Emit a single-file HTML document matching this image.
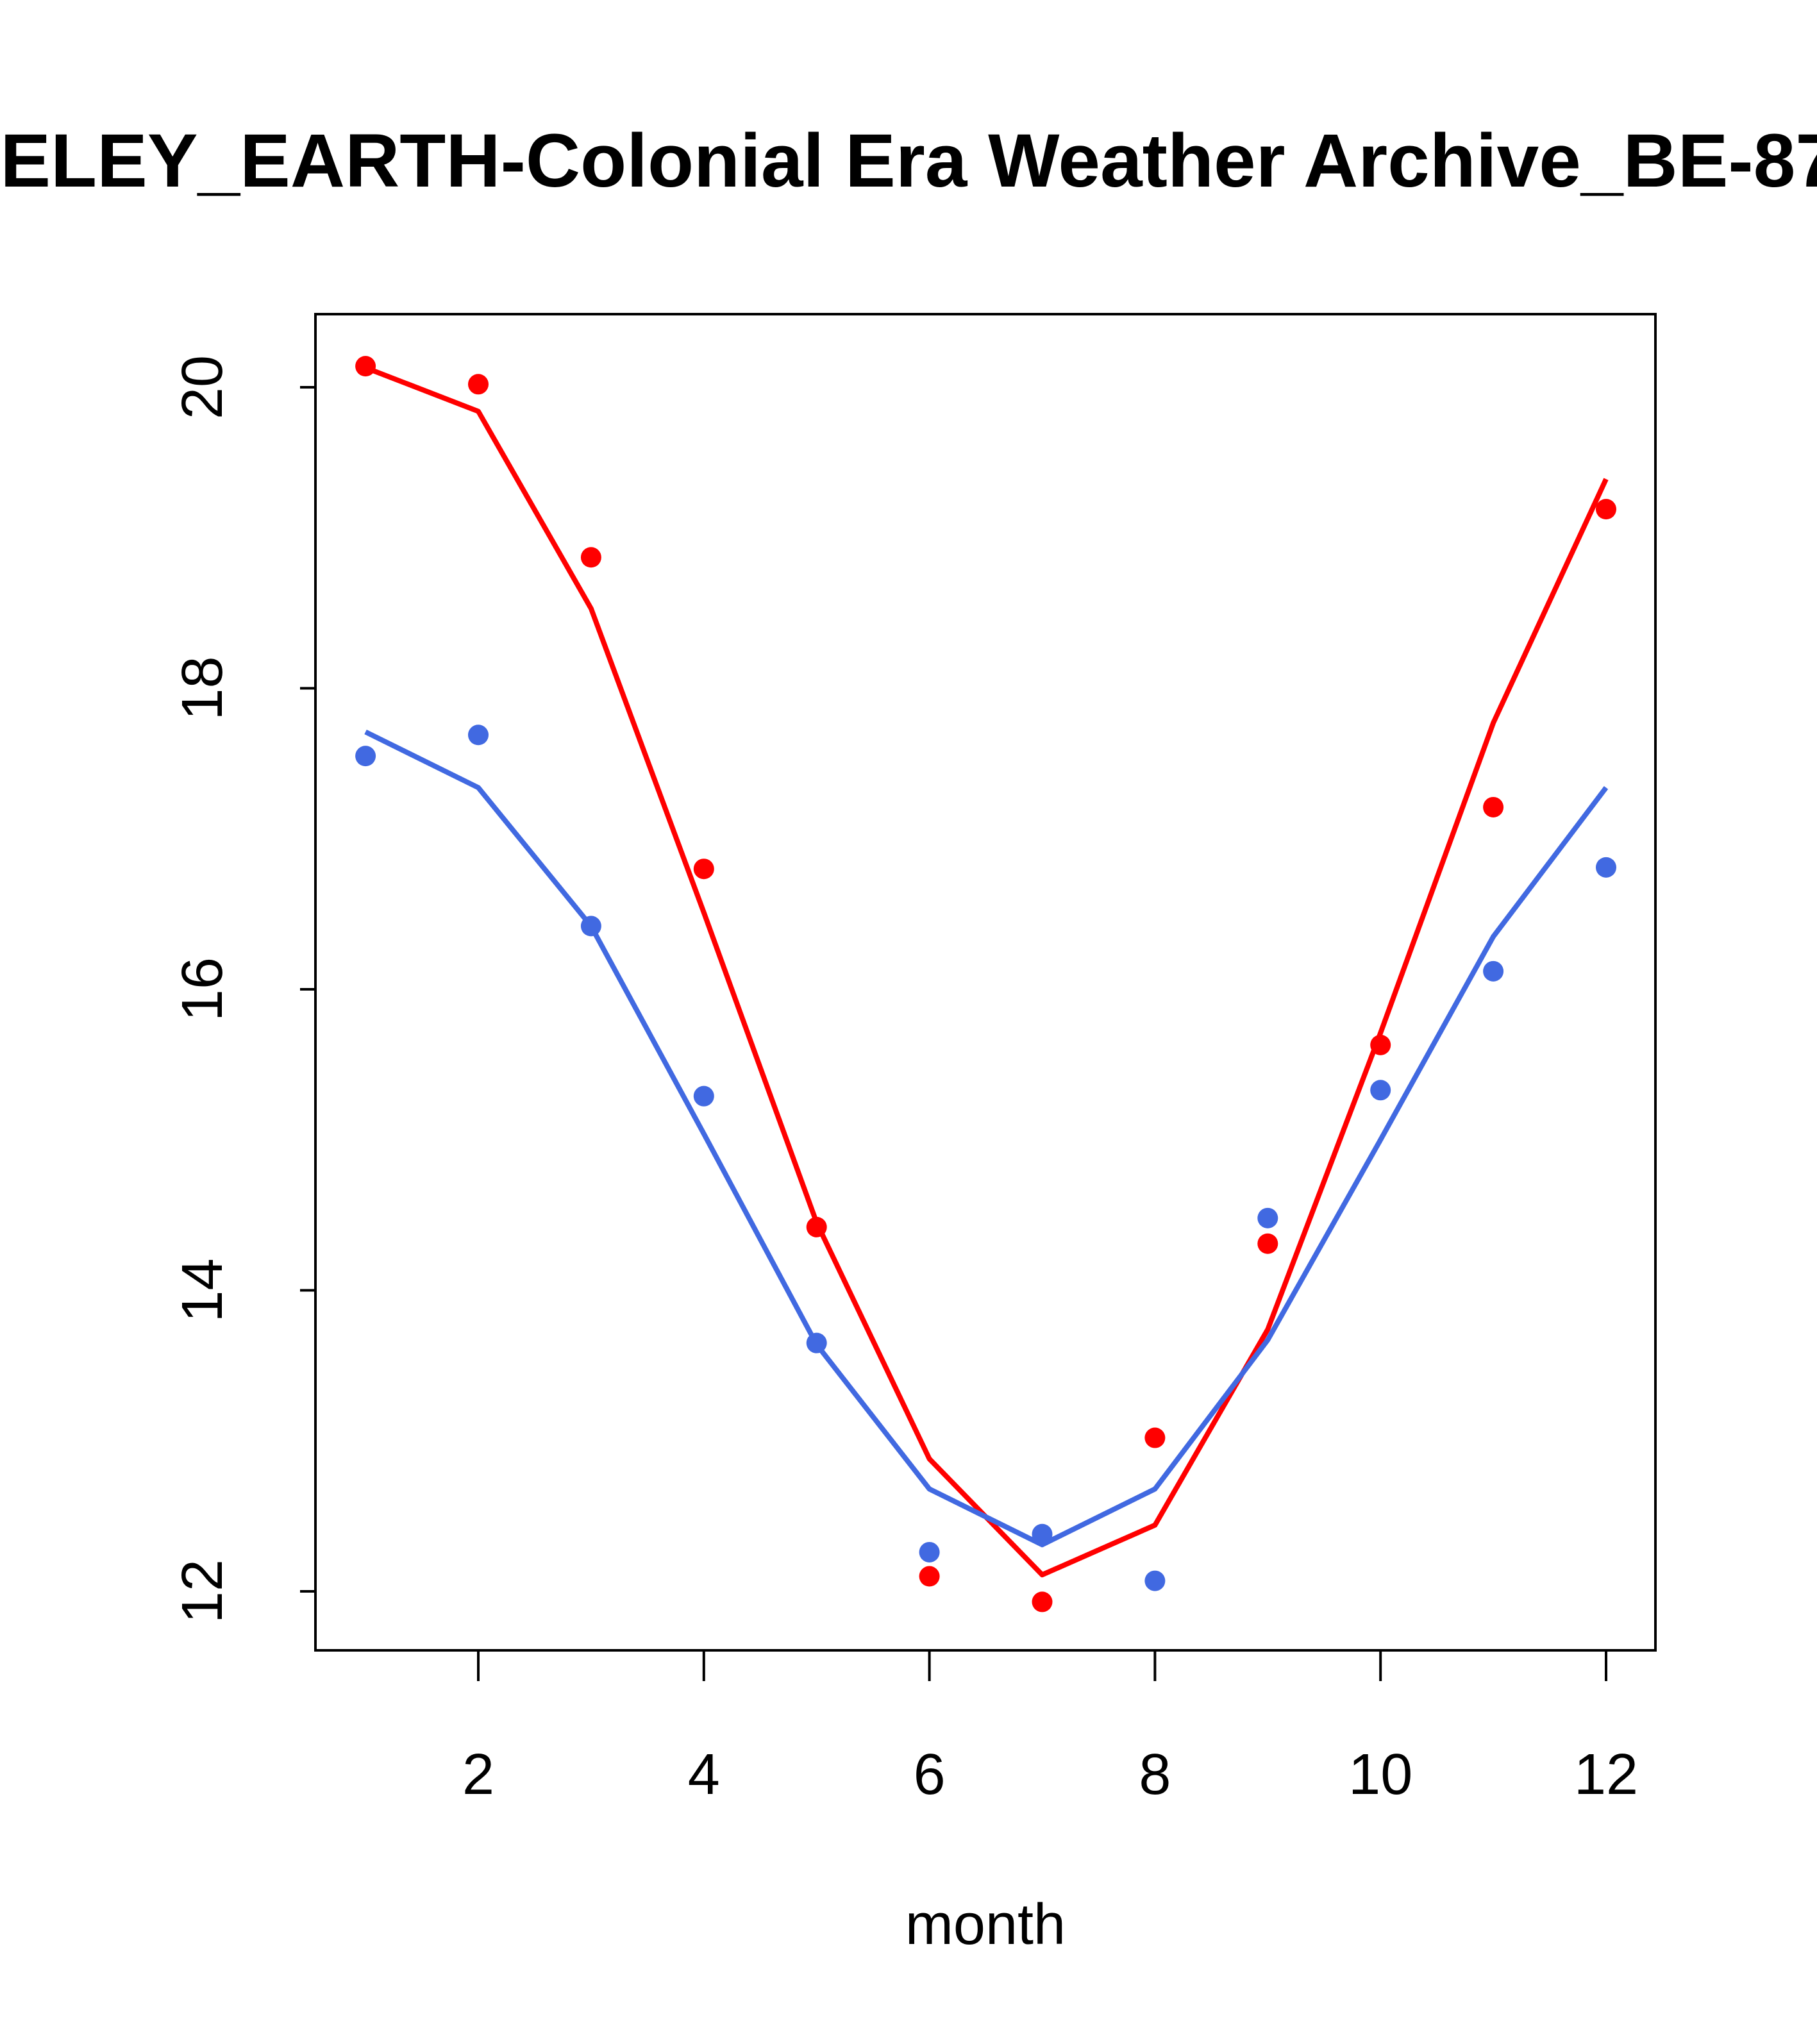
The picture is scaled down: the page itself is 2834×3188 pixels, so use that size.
<!DOCTYPE html>
<html><head><meta charset="utf-8"><style>
html,body{margin:0;padding:0;background:#fff;overflow:hidden;}
svg{display:block;font-family:"Liberation Sans",Arial,sans-serif;}
</style></head><body>
<svg id="chart" width="2834" height="3188" viewBox="0 0 2834 3188" xmlns="http://www.w3.org/2000/svg">
<rect width="2834" height="3188" fill="#fff"/>
<text x="-334" y="291" text-anchor="start" font-size="118" font-weight="bold">BERKELEY_EARTH-Colonial Era Weather Archive_BE-8719</text>
<rect x="492" y="490" width="2090" height="2084" fill="none" stroke="#000" stroke-width="4"/>
<g id="axes"></g>
<g id="series"></g>
<text x="1537" y="3032" text-anchor="middle" font-size="90">month</text>
</svg>
<script>
const months = [1,2,3,4,5,6,7,8,9,10,11,12];
const redPoints = [20.14,20.02,18.87,16.80,14.42,12.10,11.93,13.02,14.31,15.63,17.21,19.19];
const redLine = [20.13,19.84,18.53,16.51,14.45,12.88,12.11,12.44,13.74,15.71,17.77,19.39];
const bluePoints = [17.55,17.69,16.42,15.29,13.65,12.26,12.38,12.07,14.48,15.33,16.12,16.81];
const blueLine = [17.71,17.34,16.42,15.04,13.64,12.68,12.31,12.68,13.67,15.00,16.35,17.34];
const xTicks = [2,4,6,8,10,12];
const yTicks = [12,14,16,18,20];

const NS = "http://www.w3.org/2000/svg";
function xs(m){ return 746 + (m-2)*175.9; }
function ys(v){ return 604 + (20-v)*234.75; }
const axes = document.getElementById('axes');
const series = document.getElementById('series');
function mk(tag, attrs, parent){ const e=document.createElementNS(NS,tag); for(const k in attrs) e.setAttribute(k,attrs[k]); parent.appendChild(e); return e; }

xTicks.forEach(t=>{
  const l = mk('line',{x1:xs(t),x2:xs(t),y1:2574,y2:2622,stroke:'#000','stroke-width':4},axes);
  
  
  const tx = mk('text',{x:xs(t),y:2798,'text-anchor':'middle','font-size':90},axes);
  tx.textContent = t;
  
  
});
yTicks.forEach(t=>{
  const l = mk('line',{x1:468,x2:492,y1:ys(t),y2:ys(t),stroke:'#000','stroke-width':4},axes);
  
  
  const tx = mk('text',{x:0,y:0,'text-anchor':'middle','font-size':90,transform:`translate(346,${ys(t)}) rotate(-90)`},axes);
  tx.textContent = t;
  
  
});

function drawLine(vals,color,name){
  const p = mk('polyline',{points:months.map((m,i)=>xs(m)+','+ys(vals[i])).join(' '),fill:'none',stroke:color,'stroke-width':8,'stroke-linejoin':'round'},series);
  
  
}
function drawPoints(vals,color,name){
  months.forEach((m,i)=>{
    const c = mk('circle',{cx:xs(m),cy:ys(vals[i]),r:16,fill:color},series);
    
    
  });
}
drawLine(redLine,'#ff0000','red-fit-line');
drawLine(blueLine,'#4169e1','blue-fit-line');
drawPoints(redPoints,'#ff0000','red-point');
drawPoints(bluePoints,'#4169e1','blue-point');
</script>
</body></html>
